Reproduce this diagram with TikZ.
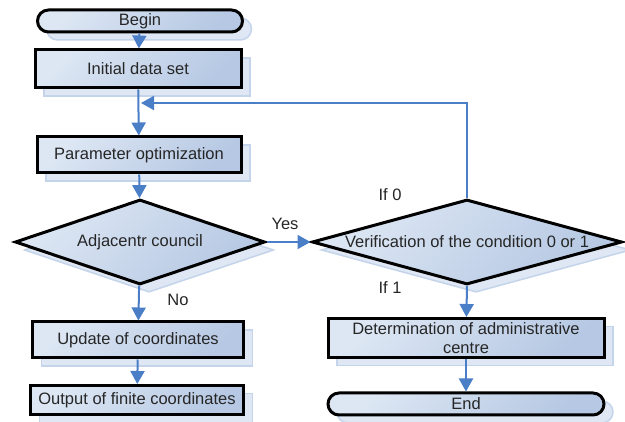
\documentclass[tikz,border=0pt]{standalone}
\usepackage{fontspec}
\setmainfont{Liberation Sans}
\usetikzlibrary{shapes.geometric,shadows,arrows.meta}
\definecolor{boxlight}{HTML}{DDE7F4}
\definecolor{boxdark}{HTML}{B6C8E3}
\definecolor{shadowfill}{HTML}{DEE7F3}
\definecolor{shadowedge}{HTML}{C4D4EB}
\definecolor{flowblue}{HTML}{4A7EC7}
\definecolor{txt}{HTML}{262626}
\tikzset{
	base/.style={draw=black, line width=3pt, top color=boxlight, bottom color=boxdark, shading angle=45,
		text=txt, font=\fontsize{16.5}{19}\selectfont, inner sep=0pt,
		copy shadow={shadow xshift=9pt, shadow yshift=-8pt, fill=shadowfill, draw=shadowedge, line width=1.5pt}},
	block/.style={base, rectangle},
	terminal/.style={base, rectangle, rounded corners=11pt},
	decision/.style={base, diamond},
	flow/.style={draw=flowblue, line width=2pt, -{Triangle[width=14pt,length=13pt]}},
	lbl/.style={text=txt, font=\fontsize{16.5}{19}\selectfont}
}
\begin{document}
\begin{tikzpicture}[x=1pt,y=-1pt]
	\useasboundingbox (0,0) rectangle (625,422);
	\node[terminal, minimum width=205pt, minimum height=22pt] (begin) at (140,21) {Begin};
	\node[block, minimum width=206pt, minimum height=38pt] (init) at (138,69) {Initial data set};
	\node[block, minimum width=204pt, minimum height=36pt] (param) at (139,155) {Parameter optimization};
	\node[decision, minimum width=250pt, minimum height=85pt, label={[lbl]center:Adjacentr council}] (adj) at (140,242) {};
	\node[block, minimum width=211pt, minimum height=36pt] (update) at (138,340) {Update of coordinates};
	\node[block, minimum width=213pt, minimum height=29pt] (output) at (137,400) {Output of finite coordinates};
	\node[decision, minimum width=310pt, minimum height=85pt, label={[lbl]center:Verification of the condition 0 or 1}] (verif) at (467,242) {};
	\node[block, minimum width=276pt, minimum height=39pt, align=center] (determ) at (466,338) {Determination of administrative\\centre};
	\node[terminal, minimum width=276pt, minimum height=22pt] (end) at (466,404) {End};

	\node[lbl] (yes) at (285,224) {Yes};
	\node[lbl] (no) at (178,300) {No};
	\node[lbl] (if0) at (390,195) {If 0};
	\node[lbl] (if1) at (390,288) {If 1};

	\coordinate (fb) at (141,103);

	\draw[flow] (begin) -- (init);
	\draw[flow] (init) -- (param);
	\draw[flow] (param) -- (adj);
	\draw[flow] (adj) -- (update);
	\draw[flow] (update) -- (output);
	\draw[flow] (adj.east) -- (verif.west);
	\draw[flow] (verif.north) |- (fb);
	\draw[flow] (verif.south) -- (determ);
	\draw[flow] (determ) -- (end);
\end{tikzpicture}
\end{document}
